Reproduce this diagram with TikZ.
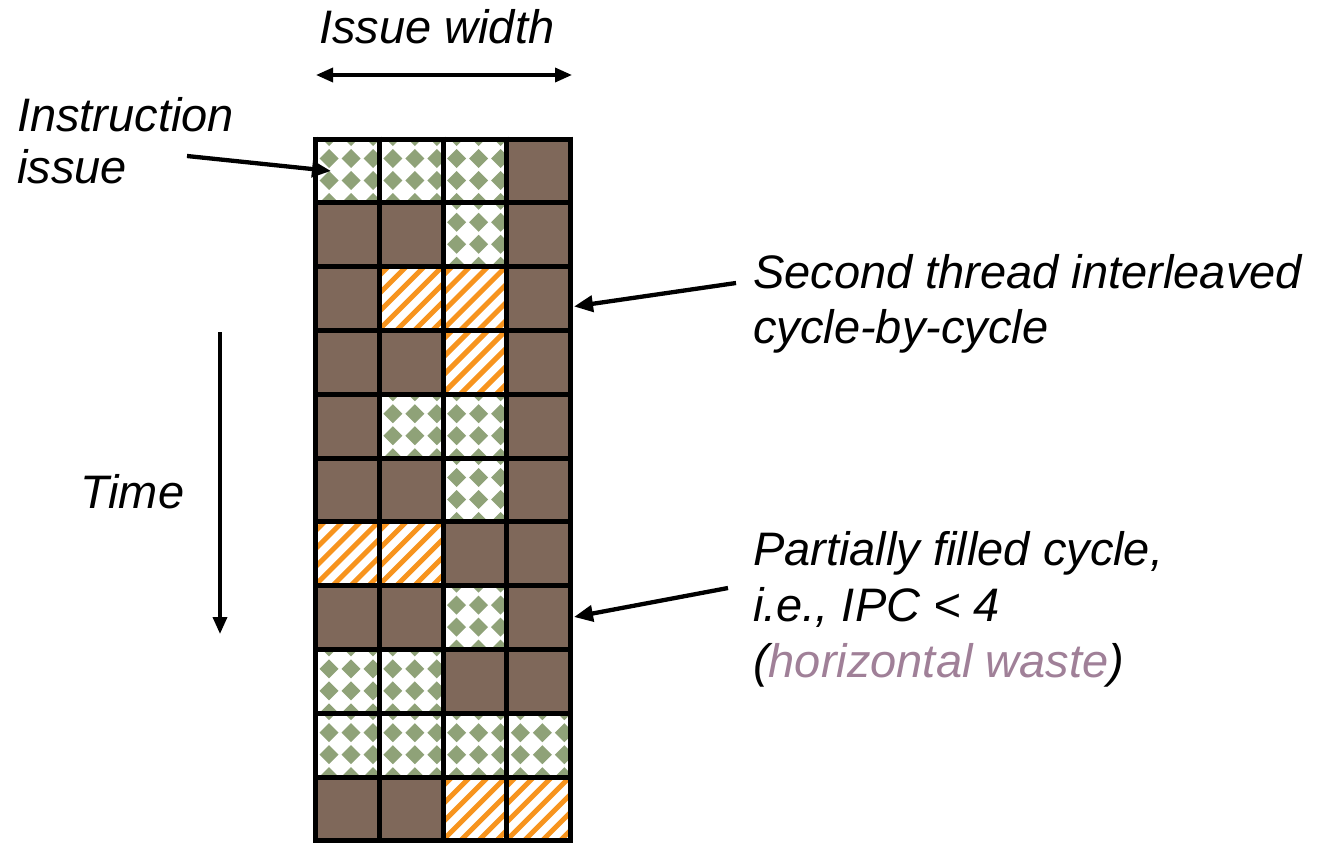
\documentclass[tikz,border=0pt]{standalone}
\usepackage{fontspec}
\setmainfont{Liberation Sans}
\usetikzlibrary{arrows.meta}
\definecolor{brownc}{RGB}{127,104,90}
\definecolor{greenc}{RGB}{143,162,120}
\definecolor{orangec}{RGB}{247,148,30}
\definecolor{mauvec}{RGB}{160,128,152}
\begin{document}
\begin{tikzpicture}[x=1pt,y=-1pt,
  lbl/.style={inner sep=0pt, anchor=base west},
  gridline/.style={line width=5pt, black},
  arr/.style={line width=4.3pt, -{Triangle[length=19pt,width=16pt]}},
  thinarr/.style={line width=3.5pt, -{Triangle[length=17pt,width=14pt]}},
  dblarr/.style={line width=3.5pt, {Triangle[length=17pt,width=14pt]}-{Triangle[length=17pt,width=14pt]}}]
\useasboundingbox (0,0) rectangle (1326,843);
\fill[white] (0,0) rectangle (1326,843);
% cells
\foreach \r/\lst in {0/{G,G,G,B},1/{B,B,G,B},2/{B,O,O,B},3/{B,B,O,B},4/{B,G,G,B},5/{B,B,G,B},6/{O,O,B,B},7/{B,B,G,B},8/{G,G,B,B},9/{G,G,G,G},10/{B,B,O,O}}{
  \foreach \t [count=\c from 0] in \lst {
    \begin{scope}[shift={({315.5+63.8*\c},{139+63.8*\r})}]
      \if\t B
        \fill[brownc] (0,0) rectangle (63.8,63.8);
      \fi
      \if\t G
        \fill[white] (0,0) rectangle (63.8,63.8);
        \begin{scope}
          \clip (0,0) rectangle (63.8,63.8);
          \foreach \i in {-1,...,3}{\foreach \j in {-1,...,3}{
            \fill[greenc] ({13.5+22*\i},{19.5+22*\j}) +(-9.5,0) -- +(0,-9.5) -- +(9.5,0) -- +(0,9.5) -- cycle;
          }}
        \end{scope}
      \fi
      \if\t O
        \fill[white] (0,0) rectangle (63.8,63.8);
        \begin{scope}
          \clip (0,0) rectangle (63.8,63.8);
          \foreach \k in {0,...,8}{
            \draw[orangec, line width=5pt] ({19+18*\k},-10) -- ({-81+18*\k},90);
          }
        \end{scope}
      \fi
    \end{scope}
  }
}
% grid lines
\foreach \c in {0,...,4}
  \draw[gridline] ({315.5+63.8*\c},136.5) -- ({315.5+63.8*\c},843.3);
\foreach \r in {0,...,11}
  \draw[gridline] (313,{139+63.8*\r}) -- (573.2,{139+63.8*\r});
% labels
\node[lbl, font=\fontsize{47}{52}\selectfont\itshape] (iw) at (319,44) {Issue width};
\node[lbl, font=\fontsize{47}{52}\selectfont\itshape] (ins) at (17,131.7)
  {\begin{tabular}[t]{@{}l@{}}Instruction\\issue\end{tabular}};
\node[lbl, font=\fontsize{47}{52}\selectfont\itshape] (tm) at (80,508) {Time};
\node[lbl, font=\fontsize{47}{55}\selectfont\itshape] (sec) at (753,288.3)
  {\begin{tabular}[t]{@{}l@{}}Second thread interleaved\\cycle-by-cycle\end{tabular}};
\node[lbl, font=\fontsize{47}{56}\selectfont\itshape] (part) at (753,565)
  {\begin{tabular}[t]{@{}l@{}}Partially filled cycle,\\i.e., IPC < 4\\(\textcolor{mauvec}{horizontal waste})\end{tabular}};
% arrow endpoints
\coordinate (iwL) at (316,75);
\coordinate (iwR) at (572,75);
\coordinate (insS) at (187,156);
\coordinate (insE) at (331,171);
\coordinate (tmS) at (220,332);
\coordinate (tmE) at (220,634);
\coordinate (secS) at (736,283);
\coordinate (secE) at (574,306.5);
\coordinate (partS) at (728,588);
\coordinate (partE) at (574,617);
% arrows
\draw[dblarr] (iwL) -- (iwR);
\draw[arr] (insS) -- (insE);
\draw[thinarr] (tmS) -- (tmE);
\draw[arr] (secS) -- (secE);
\draw[arr] (partS) -- (partE);
\end{tikzpicture}
\end{document}
